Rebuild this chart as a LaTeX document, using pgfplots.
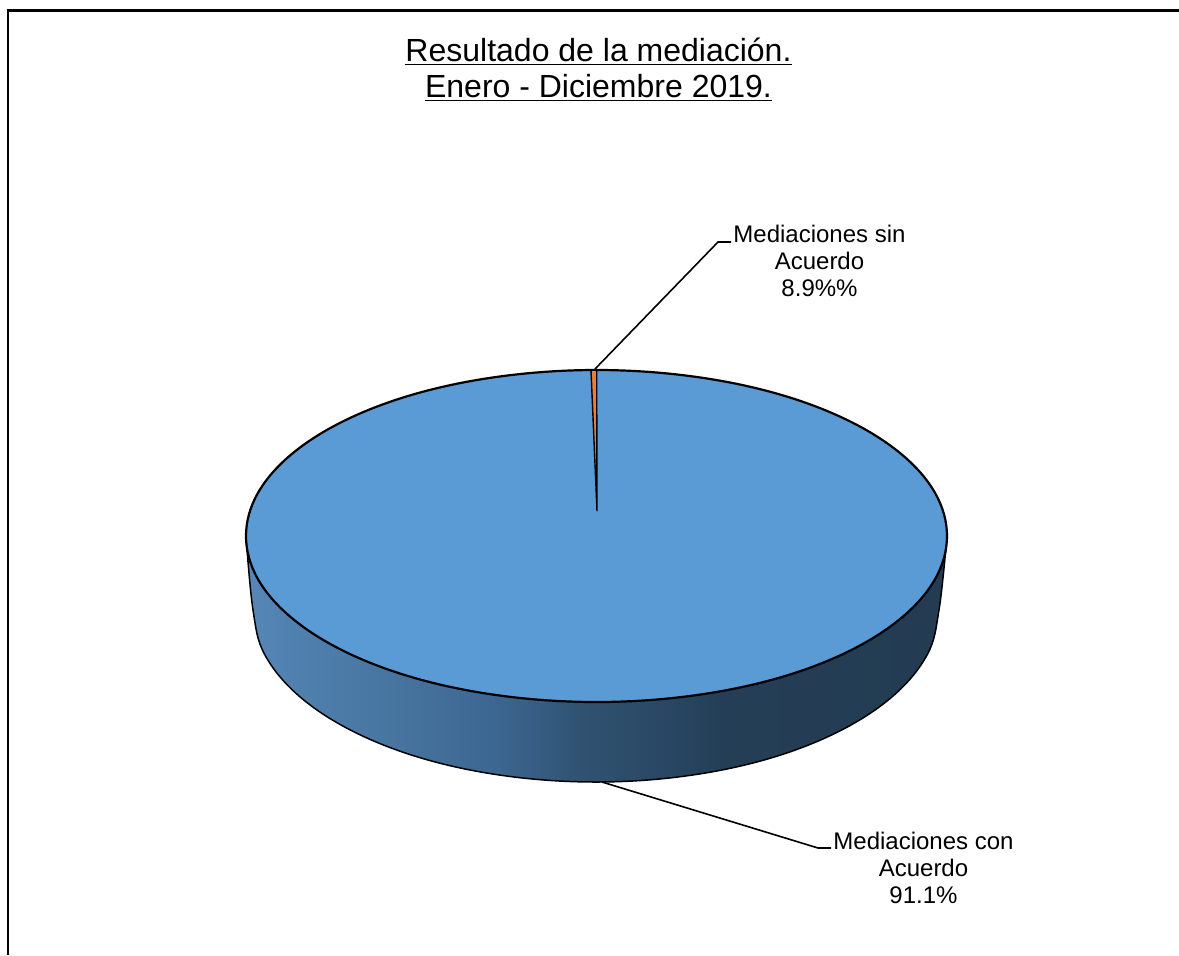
\documentclass[border=0pt]{standalone}
\usepackage{fontspec}
\setmainfont{Liberation Sans}
\usepackage{pgfplots}
\pgfplotsset{compat=1.18}
\definecolor{topblue}{HTML}{5B9BD5}
\definecolor{wedge}{HTML}{ED7D31}
\definecolor{s1}{HTML}{5687B8}
\definecolor{s2}{HTML}{4F7FAD}
\definecolor{s3}{HTML}{46749F}
\definecolor{s4}{HTML}{3C6690}
\definecolor{s5}{HTML}{305270}
\definecolor{s6}{HTML}{2A4966}
\definecolor{s7}{HTML}{243E56}
\definecolor{s8}{HTML}{233C52}
\pgfdeclarehorizontalshading{sideshade}{100bp}{color(0bp)=(s1); color(25bp)=(s1); color(29bp)=(s2); color(36bp)=(s3); color(43bp)=(s4); color(49bp)=(s5); color(54bp)=(s6); color(59bp)=(s7); color(75bp)=(s8); color(100bp)=(s8)}
\begin{document}
\begin{tikzpicture}
\begin{axis}[
  scale only axis, width=589.5pt, height=477.5pt,
  hide axis, xmin=0, xmax=1179, ymin=0, ymax=955, y dir=reverse,
  clip=true]
% frame
\addplot[black, line width=1.25pt, sharp plot, no marks] coordinates {(8,955) (8,10.5) (1179,10.5)};
% leader lines
\addplot[black, line width=0.8pt, sharp plot, no marks] coordinates {(595,369) (718,242) (731,242)};
\addplot[black, line width=0.8pt, sharp plot, no marks] coordinates {(602,782) (818,848) (831,848)};
% side
\addplot[draw=black, line width=0.75pt, shading=sideshade, smooth, tension=0.61, no marks] coordinates {
 (246,536) (253,610) (264.7,654.5) (299,696) (353.5,731.6) (424.5,759) (507.2,776.1)
 (596,782) (684.8,776.1) (767.5,759) (838.5,731.6) (893,696) (927.3,654.5) (939,610) (947,536)};
% top (Mediaciones con Acuerdo)
\addplot[draw=black, line width=1.1pt, fill=topblue, smooth cycle, tension=0.61, no marks] coordinates {
 (246,536) (257.9,579) (293,619) (348.7,653.4) (421.2,679.8) (505.8,696.3) (596.5,702)
 (687.2,696.3) (771.8,679.8) (844.3,653.4) (900,619) (935.1,579) (947,536)
 (935.1,493) (900,453) (844.3,418.6) (771.8,392.2) (687.2,375.7) (596.5,370)
 (505.8,375.7) (421.2,392.2) (348.7,418.6) (293,453) (257.9,493)};
% Mediaciones sin Acuerdo
\addplot[draw=black, line width=0.7pt, fill=wedge, sharp plot, no marks] coordinates {
 (591,370.2) (596.7,370.2) (597,511) (591,370.2)};
\node[align=center, font=\fontsize{16}{18}\selectfont] at (axis cs:598.5,69.5)
  {\underline{Resultado de la mediación.}\\\underline{Enero - Diciembre 2019.}};
\node[align=center, font=\fontsize{12}{13.7}\selectfont] at (axis cs:819.5,261)
  {Mediaciones sin\\Acuerdo\\8.9\%\%};
\node[align=center, font=\fontsize{12}{13.7}\selectfont] at (axis cs:923.5,868)
  {Mediaciones con\\Acuerdo\\91.1\%};
\path[use as bounding box] (axis cs:0,0) rectangle (axis cs:1179,955);
\end{axis}
\end{tikzpicture}
\end{document}
